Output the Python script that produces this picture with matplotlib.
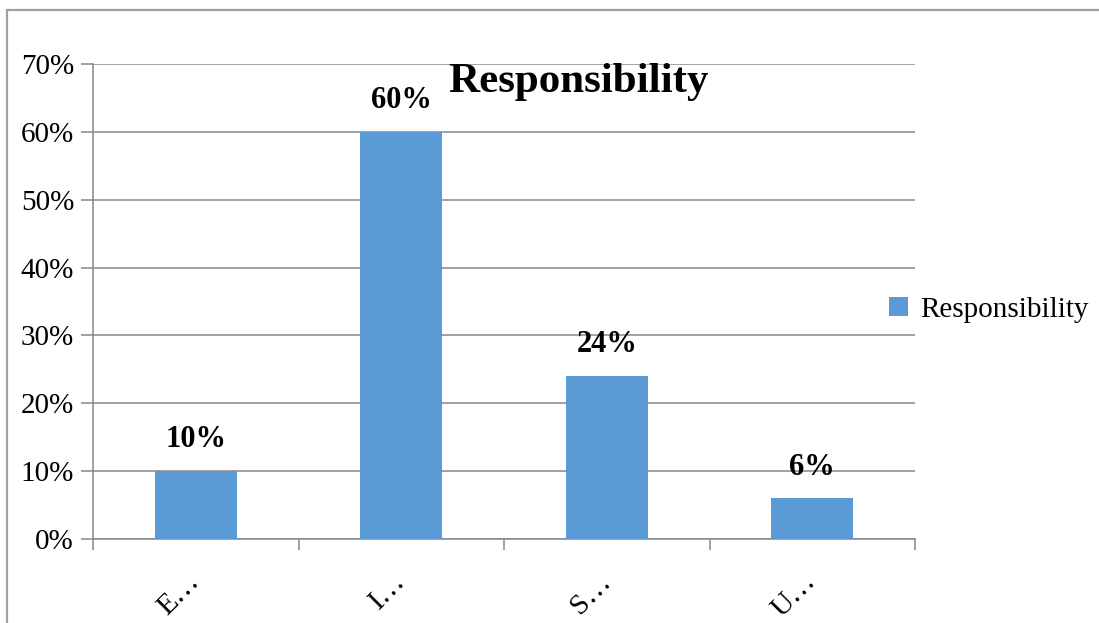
import matplotlib.pyplot as plt
from matplotlib.patches import Rectangle
from matplotlib.ticker import PercentFormatter, FixedLocator

categories = ['E…', 'I…', 'S…', 'U…']
values = [10, 60, 24, 6]
series_name = 'Responsibility'

plt.rcParams['font.family'] = ['Liberation Serif', 'DejaVu Serif']

bar_color = '#5B9BD5'
line_color = '#888888'

fig = plt.figure(figsize=(10.99, 6.23), dpi=100)
ax = fig.add_axes([93 / 1099, 1 - 539 / 623, 822 / 1099, 475 / 623])

# outer chart border (only top and left edges fall inside the image)
fig.patches.append(Rectangle((7 / 1099, -0.1), 1.2, 1 - 10 / 623 + 0.1,
                             transform=fig.transFigure, fill=False,
                             edgecolor='#a0a0a0', linewidth=1.6))

x = range(len(categories))
bars = ax.bar(x, values, width=0.4, color=bar_color, label=series_name, zorder=3)

for b, v in zip(bars, values):
    ax.annotate(f'{v}%', (b.get_x() + b.get_width() / 2, v),
                xytext=(0, 12), textcoords='offset points',
                ha='center', va='bottom', fontsize=22, fontweight='bold')

ax.set_xlim(-0.5, len(categories) - 0.5)
ax.set_ylim(0, 70)
ax.yaxis.set_major_locator(FixedLocator(range(0, 71, 10)))
ax.yaxis.set_major_formatter(PercentFormatter(decimals=0))
ax.grid(axis='y', color=line_color, linewidth=1.1, zorder=0)

ax.set_xticks(list(x))
ax.set_xticklabels(categories, rotation=45, ha='right', va='center',
                   rotation_mode='anchor', fontsize=21)
ax.set_xticks([i - 0.5 for i in range(len(categories) + 1)], minor=True)
ax.tick_params(axis='x', which='major', length=0, pad=28)
ax.tick_params(axis='x', which='minor', length=8, width=1.1, color=line_color)
ax.tick_params(axis='y', length=8.6, width=1.1, color=line_color, pad=5,
               labelsize=21)

for side in ['top', 'right']:
    ax.spines[side].set_visible(False)
for side in ['left', 'bottom']:
    ax.spines[side].set_color(line_color)
    ax.spines[side].set_linewidth(1.1)

ax.text(0.591, 0.962, series_name, transform=ax.transAxes, ha='center',
        va='center', fontsize=31, fontweight='bold')

fig.legend(loc='center left', bbox_to_anchor=(863 / 1099, 1 - 310 / 623),
           frameon=False, fontsize=21, handlelength=0.65, handleheight=0.65,
           handletextpad=0.4)

fig.savefig('out.png', dpi=100)
